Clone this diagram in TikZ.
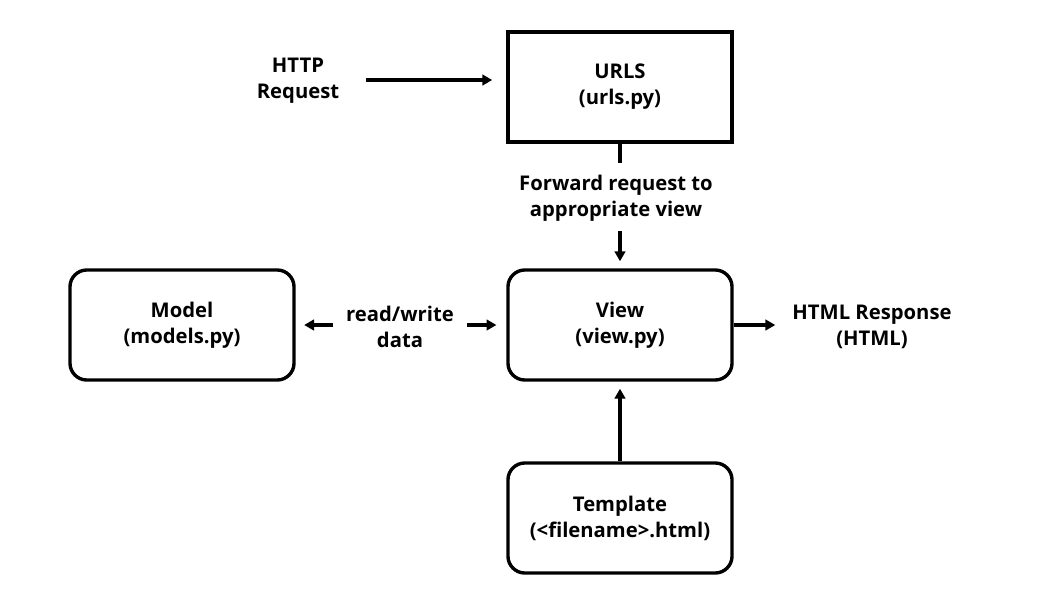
\documentclass[tikz,border=0pt]{standalone}
\usepackage{fontspec}
\setmainfont{Open Sans}
\usetikzlibrary{arrows.meta}

\begin{document}
\begin{tikzpicture}[x=0.025cm, y=-0.025cm, line width=2.4pt,
    >={Triangle[length=7pt,width=7.5pt]},
    font=\bfseries\fontsize{14.4}{18.5}\selectfont]

    \tikzset{
        box/.style={draw, minimum width=5.6cm, minimum height=2.75cm, align=center, inner sep=0pt},
        rbox/.style={box, rounded corners=12pt},
        lbl/.style={align=center, inner sep=0pt}
    }

    \useasboundingbox (0,0) rectangle (1040,612);

    % boxes
    \node[box]  (urls)  at (620,87)  {URLS\\(urls.py)};
    \node[rbox] (view)  at (620,325) {View\\(view.py)};
    \node[rbox] (model) at (182,325) {Model\\(models.py)};
    \node[rbox] (tmpl)  at (620,518) {Template\\(<filename>.html)};

    % labels
    \node[lbl] (http) at (298,81)  {HTTP\\Request};
    \node[lbl] (fwd)  at (616,198) {Forward request to\\appropriate view};
    \node[lbl] (rw)   at (400,327) {read/write\\data};
    \node[lbl] (resp) at (872,327) {HTML Response\\(HTML)};

    % connectors
    \draw[->, shorten <=18pt, shorten >=10pt] (http.east |- 0,80) -- (urls.west |- 0,80);
    \draw[shorten >=7pt] (urls.south) -- (urls.south |- fwd.north);
    \draw[->, shorten <=6pt, shorten >=5pt] (urls.south |- fwd.south) -- (view.north);
    \draw[->, shorten <=8pt, shorten >=6pt] (rw.west |- 0,325) -- (model.east |- 0,325);
    \draw[->, shorten <=8pt, shorten >=7pt] (rw.east |- 0,325) -- (view.west |- 0,325);
    \draw[->, shorten >=11pt] (view.east) -- (resp.west |- view.east);
    \draw[->, shorten >=5pt] (tmpl.north) -- (view.south);

\end{tikzpicture}
\end{document}
